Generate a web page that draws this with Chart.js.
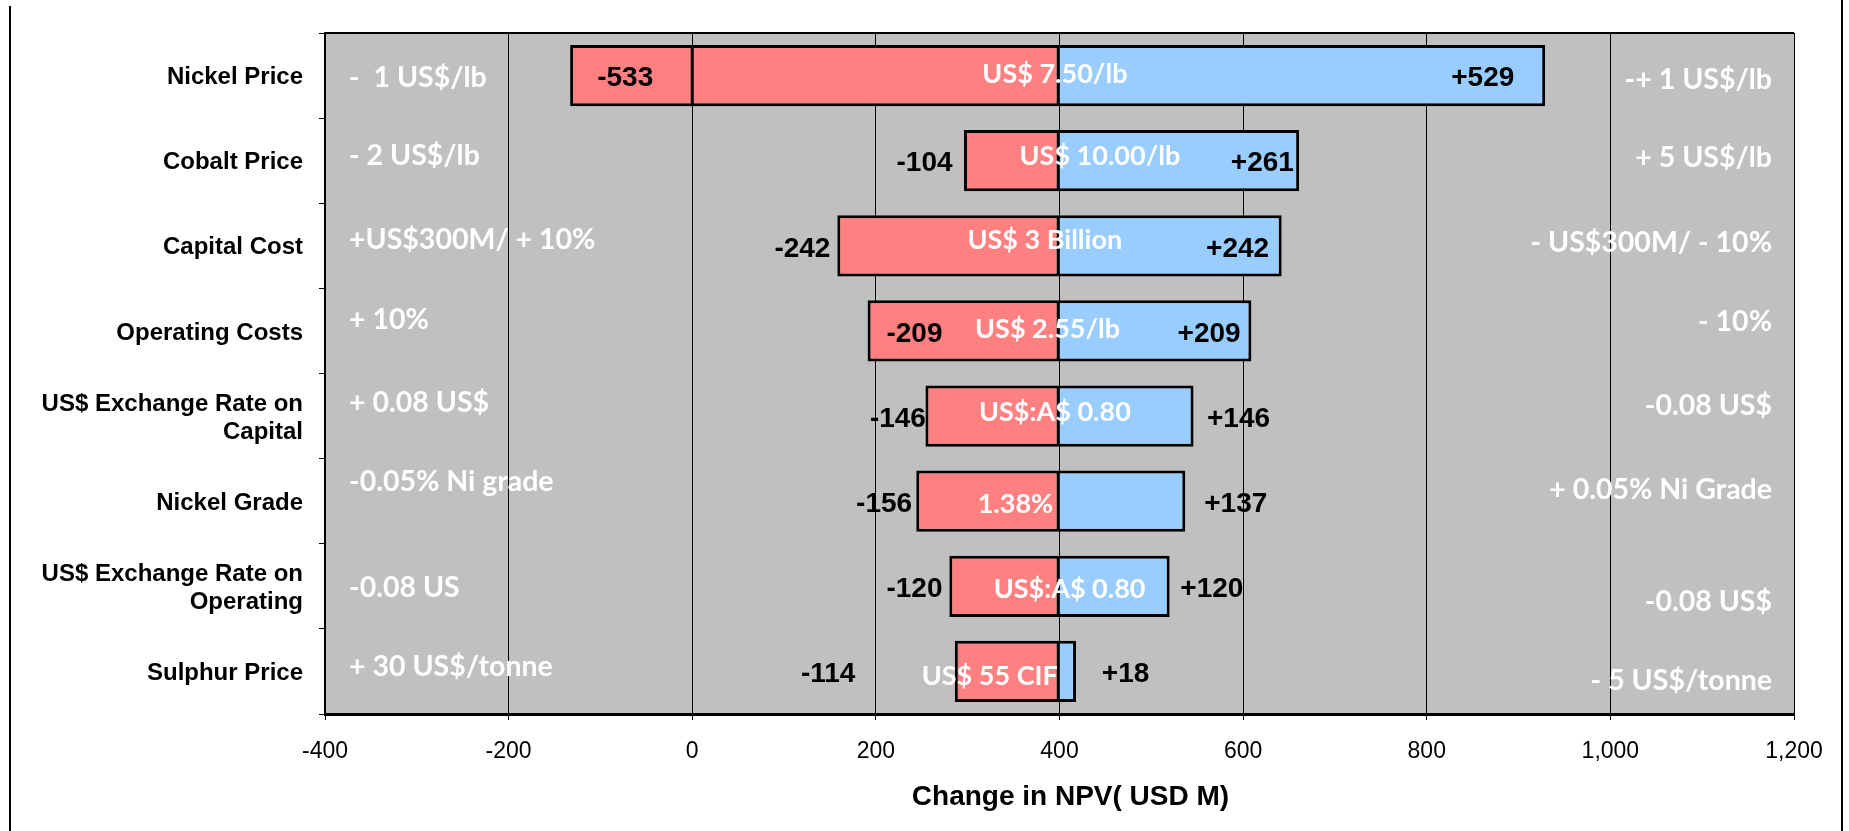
<!DOCTYPE html>
<html>
<head>
<meta charset="utf-8">
<title>NPV Sensitivity</title>
<script src="https://cdn.jsdelivr.net/npm/chart.js@4/dist/chart.umd.min.js"></script>
<style>
    body { margin: 0; background: #ffffff; }
    #myChart { display: block; }
</style>
</head>
<body>
<canvas id="myChart" width="1849" height="831"></canvas>
<script>

// Chart data
// --------------------------------------------
const categories = [
    'Nickel Price',
    'Cobalt Price',
    'Capital Cost',
    'Operating Costs',
    ['US$ Exchange Rate on', 'Capital'],
    'Nickel Grade',
    ['US$ Exchange Rate on', 'Operating'],
    'Sulphur Price'
]
const baseNPV = 400
const downside = [533, 104, 242, 209, 146, 156, 120, 114]
const upside = [529, 261, 242, 209, 146, 137, 120, 18]

const baseCase = ['US$ 7.50/lb', 'US$ 10.00/lb', 'US$ 3 Billion', 'US$ 2.55/lb', 'US$:A$ 0.80', '1.38%', 'US$:A$ 0.80', 'US$ 55 CIF']
const lowCase = ['-  1 US$/lb', '- 2 US$/lb', '+US$300M/ + 10%', '+ 10%', '+ 0.08 US$', '-0.05% Ni grade', '-0.08 US', '+ 30 US$/tonne']
const highCase = ['-+ 1 US$/lb', '+ 5 US$/lb', '- US$300M/ - 10%', '- 10%', '-0.08 US$', '+ 0.05% Ni Grade', '-0.08 US$', '- 5 US$/tonne']

const xMin = -400
const xMax = 1200
const xStep = 200
const xTitle = 'Change in NPV( USD M)'


// Label placement (axis units for x, pixel offsets for y)
// --------------------------------------------
const lowLabelAt = [-73, 253, 120, 242, 224, 209, 242, 148]
const highLabelAt = [861, 621, 594, 563, 595, 592, 566, 472]
const baseLabelAt = [395, 444, 384, 387, 395, 352, 411, 324]
const baseLabelDy = [-1, -4, -6, -2, -4, 3, 3, 5]
const lowNoteDy = [2, -5, -6, -11, -13, -19, 1, -5]
const highNoteDy = [4, -3, -3, -9, -10, -11, 15, 9]

const arial = '"Liberation Sans", Arial, sans-serif'
const calibri = 'Lato, "Open Sans", sans-serif'


// Builds floating bars around the base NPV
// --------------------------------------------
let lowBars = downside.map(d => [baseNPV - d, baseNPV])
let highBars = upside.map(u => [baseNPV, baseNPV + u])


// Background, text boxes and frame
// --------------------------------------------
const tornadoText = {
    id: 'tornadoText',
    beforeDraw(chart) {
        const { ctx, chartArea: a } = chart
        ctx.save()
        ctx.fillStyle = '#c0c0c0'
        ctx.fillRect(a.left, a.top, a.right - a.left, a.bottom - a.top)
        ctx.restore()
    },
    afterDatasetsDraw(chart) {
        const { ctx, chartArea: a } = chart
        const x = chart.scales.x
        const y = chart.scales.y
        const lowMeta = chart.getDatasetMeta(0)
        ctx.save()

        // Excel leaves the zero line visible where a bar crosses it
        lowBars.forEach((b, i) => {
            if (b[0] < 0 && b[1] > 0) {
                const bar = lowMeta.data[i]
                const h = bar.height
                ctx.strokeStyle = '#000'
                ctx.lineWidth = 3
                ctx.beginPath()
                ctx.moveTo(x.getPixelForValue(0), bar.y - h / 2)
                ctx.lineTo(x.getPixelForValue(0), bar.y + h / 2)
                ctx.stroke()
            }
        })

        // top edge of plot area
        ctx.strokeStyle = '#000'
        ctx.lineWidth = 2
        ctx.beginPath()
        ctx.moveTo(a.left, a.top)
        ctx.lineTo(a.right, a.top)
        ctx.stroke()

        ctx.textBaseline = 'middle'
        categories.forEach((c, i) => {
            const cy = y.getPixelForValue(i)

            ctx.fillStyle = '#000'
            ctx.font = 'bold 28px ' + arial
            ctx.textAlign = 'center'
            ctx.fillText('-' + downside[i], x.getPixelForValue(lowLabelAt[i]), cy + 3)
            ctx.fillText('+' + upside[i], x.getPixelForValue(highLabelAt[i]), cy + 3)

            ctx.fillStyle = '#ffffff'
            ctx.font = 'bold 27px ' + calibri
            ctx.fillText(baseCase[i], x.getPixelForValue(baseLabelAt[i]), cy + baseLabelDy[i])

            ctx.font = 'bold 28.5px ' + calibri
            ctx.textAlign = 'left'
            ctx.fillText(lowCase[i], a.left + 24, cy + lowNoteDy[i])
            ctx.textAlign = 'right'
            ctx.fillText(highCase[i], a.right - 22, cy + highNoteDy[i])
        })

        // axis title, a little right of centre as in the original
        ctx.fillStyle = '#000'
        ctx.font = 'bold 28px ' + arial
        ctx.textAlign = 'center'
        ctx.fillText(xTitle, (a.left + a.right) / 2 + 11, 797)
        ctx.restore()
    },
    afterDraw(chart) {
        const ctx = chart.ctx
        ctx.save()
        ctx.strokeStyle = '#000'
        ctx.lineWidth = 2
        ctx.beginPath()
        ctx.moveTo(10, 6)
        ctx.lineTo(10, chart.height)
        ctx.moveTo(1842, 0)
        ctx.lineTo(1842, chart.height)
        ctx.stroke()
        ctx.restore()
    }
}


// Plots the chart
// --------------------------------------------
Chart.defaults.font.family = arial
Chart.defaults.color = '#000'

const ctx = document.getElementById('myChart').getContext('2d')
const myChart = new Chart(ctx, {
    type: 'bar',
    data: {
        labels: categories,
        datasets: [{
            label: 'Downside',
            data: lowBars,
            backgroundColor: '#ff8080',
            borderColor: '#000',
            borderWidth: 3,
            borderSkipped: false,
            grouped: false,
            barPercentage: 0.72,
            categoryPercentage: 1
        }, {
            label: 'Upside',
            data: highBars,
            backgroundColor: '#99ccff',
            borderColor: '#000',
            borderWidth: 3,
            borderSkipped: 'left',
            grouped: false,
            barPercentage: 0.72,
            categoryPercentage: 1
        }]
    },
    options: {
        indexAxis: 'y',
        responsive: false,
        animation: false,
        layout: { padding: { top: 33, right: 55, left: 0, bottom: 0 } },
        plugins: {
            legend: { display: false },
            tooltip: { enabled: false }
        },
        scales: {
            x: {
                min: xMin,
                max: xMax,
                ticks: {
                    stepSize: xStep,
                    color: '#000',
                    padding: 18,
                    font: { size: 23 }
                },
                grid: { color: '#000', lineWidth: 1, tickLength: 6, tickColor: '#000' },
                border: { color: '#000', width: 3 },
                afterFit: s => { s.height = 117 }
            },
            y: {
                ticks: {
                    color: '#000',
                    padding: 16,
                    labelOffset: 2,
                    font: { size: 24, weight: 'bold', lineHeight: 1.17 }
                },
                grid: { drawOnChartArea: false, offset: true, tickLength: 6, color: '#000' },
                border: { color: '#000', width: 2 },
                afterFit: s => { s.width = 325 }
            }
        }
    },
    plugins: [tornadoText]
})

</script>
</body>
</html>
